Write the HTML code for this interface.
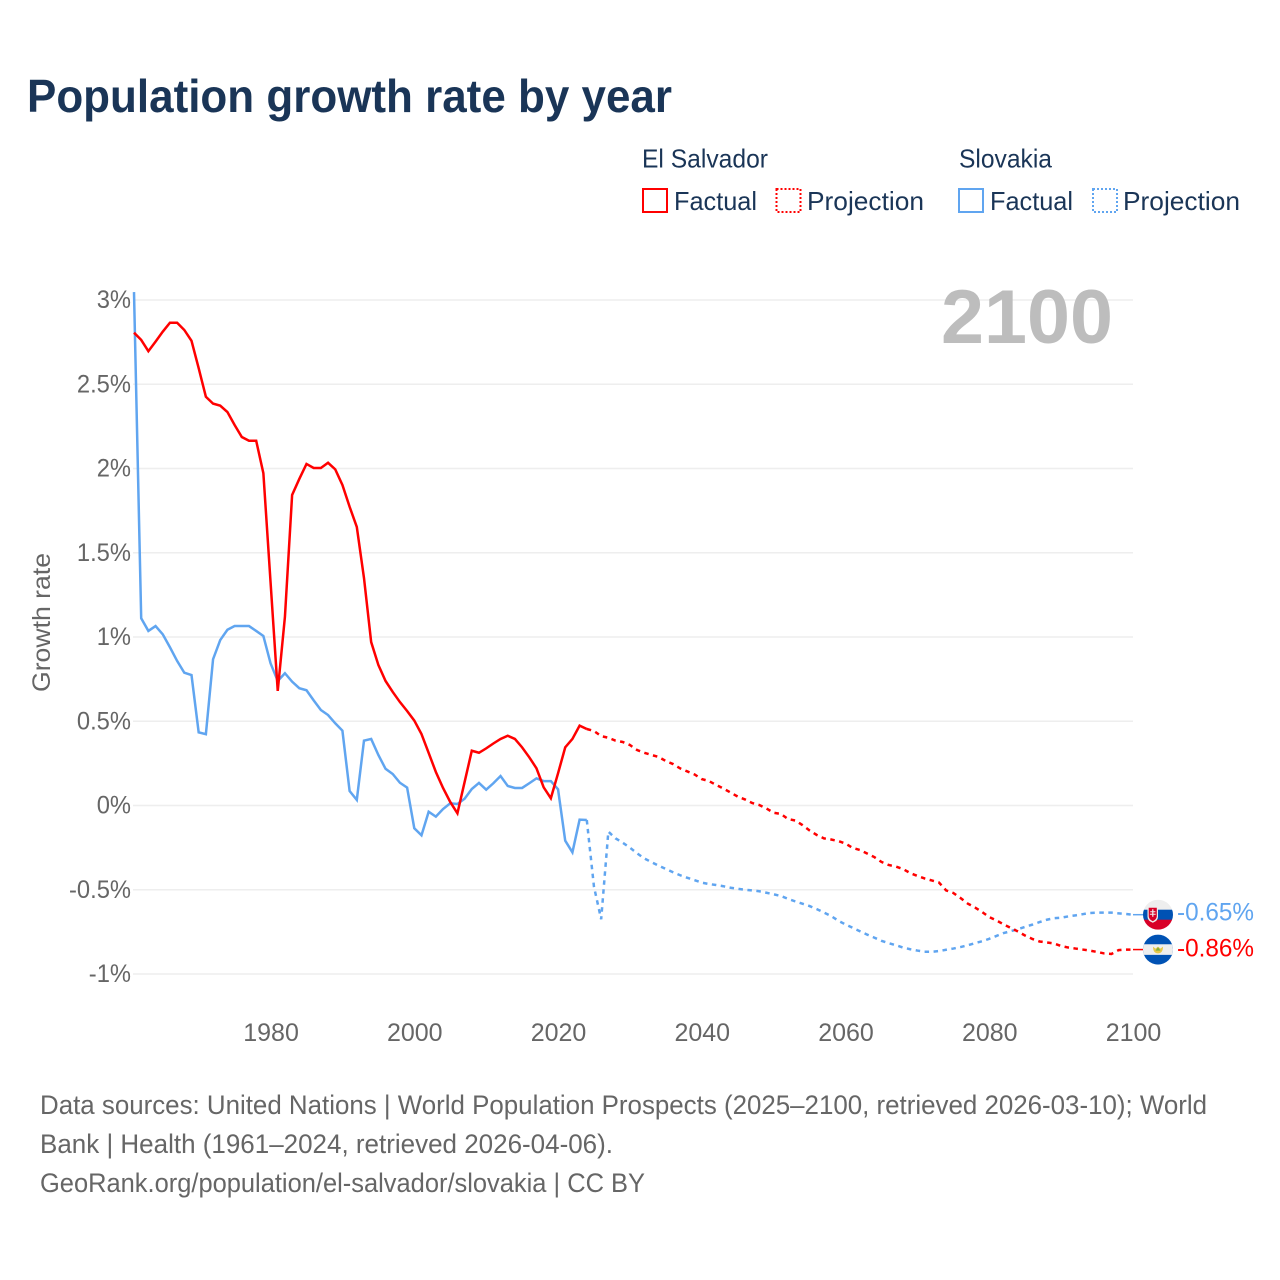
<!DOCTYPE html>
<html lang="en">
<head>
<meta charset="utf-8">
<title>Population growth rate by year</title>
<style>
html,body{margin:0;padding:0;background:#fff;width:1280px;height:1280px;overflow:hidden}
svg{display:block}
text{font-family:"Liberation Sans",sans-serif}
.legend{fill:#1a3557;font-size:26px}
.foot{fill:#666;font-size:26.5px}
.tick{fill:#666;font-size:25px}
</style>
</head>
<body>
<svg id="chart" xmlns="http://www.w3.org/2000/svg" width="1280" height="1280" viewBox="0 0 1280 1280">
  <rect width="1280" height="1280" fill="#fff"/>
  <text x="27" y="112" font-size="46" font-weight="700" fill="#1a3557" textLength="645" lengthAdjust="spacingAndGlyphs">Population growth rate by year</text>

  <g>
    <text class="legend" x="642" y="167.500" textLength="126" lengthAdjust="spacingAndGlyphs">El Salvador</text>
    <text class="legend" x="959" y="167.500" textLength="93" lengthAdjust="spacingAndGlyphs">Slovakia</text>
    <rect x="643" y="189" width="24" height="23" fill="none" stroke="#ff0000" stroke-width="2"/>
    <text class="legend" x="674" y="210" textLength="83" lengthAdjust="spacingAndGlyphs">Factual</text>
    <rect x="776.500" y="189" width="24" height="23" fill="none" stroke="#ff0000" stroke-width="2" stroke-dasharray="2 2"/>
    <text class="legend" x="807" y="210" textLength="117" lengthAdjust="spacingAndGlyphs">Projection</text>
    <rect x="959" y="189" width="24" height="23" fill="none" stroke="#60a5f0" stroke-width="2"/>
    <text class="legend" x="990" y="210" textLength="83" lengthAdjust="spacingAndGlyphs">Factual</text>
    <rect x="1093" y="189" width="24" height="23" fill="none" stroke="#60a5f0" stroke-width="2" stroke-dasharray="2 2"/>
    <text class="legend" x="1123" y="210" textLength="117" lengthAdjust="spacingAndGlyphs">Projection</text>
  </g>

  <g id="grid"></g>
  <g id="yticks"></g>
  <g id="xticks"></g>
  <text class="tick" transform="translate(50,622.5) rotate(-90)" text-anchor="middle" textLength="139" lengthAdjust="spacingAndGlyphs">Growth rate</text>
  <text x="941" y="343" font-size="76" font-weight="700" fill="#bdbdbd" textLength="172" lengthAdjust="spacingAndGlyphs">2100</text>

  <g id="series"></g>

  <defs>
    <clipPath id="flag-clip"><circle cx="0" cy="0" r="15"/></clipPath>
  </defs>
  <g id="flag-sk">
    <g clip-path="url(#flag-clip)">
      <rect x="-15" y="-15" width="30" height="10" fill="#eeeeee"/>
      <rect x="-15" y="-5" width="30" height="10.300" fill="#0052b4"/>
      <rect x="-15" y="5" width="30" height="10" fill="#d80027"/>
      <path d="M-10.500,-8 H0 V2 Q0,6 -5.200,8 Q-10.500,6 -10.500,2 Z" fill="#eeeeee"/>
      <path d="M-9.300,-7 H-1.200 V1.500 Q-1.200,4.500 -5.200,6.500 Q-9.300,4.500 -9.300,1.500 Z" fill="#d80027"/>
      <path d="M-5.800,-5.500 h1.200 v2 h2 v1 h-2 v1.500 h2.300 v1 h-2.300 v2 h-1.200 v-2 h-2.300 v-1 h2.300 v-1.500 h-2 v-1 h2 Z" fill="#eeeeee"/>
    </g>
  </g>
  <g id="flag-sv">
    <g clip-path="url(#flag-clip)">
      <rect x="-15" y="-15" width="30" height="30" fill="#0052b4"/>
      <rect x="-15" y="-5.300" width="30" height="10.600" fill="#eeeeee"/>
      <path d="M-5,-3 Q-5,3.500 0,3.800 Q5,3.500 5,-3 L2.500,-1 L0,-3 L-2.500,-1 Z" fill="#e6c84a"/>
      <path d="M-2.500,1 L0,-2.500 L2.500,1 Z" fill="#7fae3e"/>
    </g>
  </g>
  <g id="endlabels"></g>

  <g>
    <text class="foot" x="40" y="1114" textLength="1167" lengthAdjust="spacingAndGlyphs">Data sources: United Nations | World Population Prospects (2025–2100, retrieved 2026-03-10); World</text>
    <text class="foot" x="40" y="1153" textLength="573" lengthAdjust="spacingAndGlyphs">Bank | Health (1961–2024, retrieved 2026-04-06).</text>
    <text class="foot" x="40" y="1192" textLength="605" lengthAdjust="spacingAndGlyphs">GeoRank.org/population/el-salvador/slovakia | CC BY</text>
  </g>
</svg>

<script>
const factualStartYear = 1961;
const projectionStartYear = 2024;
const yearTicks = [1980, 2000, 2020, 2040, 2060, 2080, 2100];
const valueTicks = [3, 2.5, 2, 1.5, 1, 0.5, 0, -0.5, -1];
const valueTickLabels = ['3%', '2.5%', '2%', '1.5%', '1%', '0.5%', '0%', '-0.5%', '-1%'];
const endLabels = ['-0.86%', '-0.65%'];

const elSalvadorFactual = [2.806,2.763,2.696,2.753,2.812,2.865,2.865,2.822,2.758,2.595,2.426,2.385,2.373,2.335,2.258,2.187,2.165,2.165,1.972,1.326,0.680,1.120,1.843,1.938,2.027,2.003,2.003,2.034,1.995,1.902,1.773,1.653,1.350,0.970,0.834,0.739,0.674,0.614,0.561,0.504,0.424,0.312,0.199,0.104,0.021,-0.046,0.139,0.325,0.313,0.339,0.368,0.395,0.414,0.395,0.345,0.286,0.221,0.108,0.043,0.191,0.345,0.395,0.474,0.454];

const elSalvadorProjection = [0.454,0.442,0.412,0.402,0.385,0.377,0.359,0.329,0.313,0.300,0.288,0.264,0.246,0.220,0.202,0.184,0.157,0.145,0.122,0.101,0.077,0.053,0.036,0.015,0.003,-0.018,-0.043,-0.050,-0.080,-0.089,-0.116,-0.148,-0.175,-0.195,-0.202,-0.211,-0.226,-0.252,-0.264,-0.285,-0.306,-0.335,-0.353,-0.362,-0.377,-0.401,-0.418,-0.433,-0.445,-0.457,-0.504,-0.519,-0.549,-0.582,-0.605,-0.632,-0.662,-0.682,-0.706,-0.727,-0.748,-0.772,-0.792,-0.807,-0.813,-0.819,-0.834,-0.843,-0.849,-0.855,-0.861,-0.869,-0.878,-0.881,-0.858,-0.855,-0.855];

const slovakiaFactual = [3.047,1.111,1.036,1.065,1.016,0.939,0.858,0.788,0.774,0.434,0.423,0.868,0.982,1.043,1.065,1.065,1.065,1.036,1.006,0.844,0.739,0.785,0.735,0.696,0.684,0.624,0.567,0.537,0.488,0.444,0.086,0.033,0.385,0.395,0.300,0.218,0.187,0.135,0.106,-0.135,-0.177,-0.037,-0.066,-0.021,0.013,0.009,0.040,0.098,0.134,0.094,0.132,0.175,0.116,0.104,0.104,0.132,0.161,0.145,0.145,0.096,-0.209,-0.278,-0.084,-0.086];

const slovakiaProjection = [-0.086,-0.482,-0.675,-0.155,-0.195,-0.221,-0.250,-0.284,-0.314,-0.336,-0.357,-0.377,-0.396,-0.414,-0.429,-0.443,-0.458,-0.466,-0.472,-0.479,-0.488,-0.494,-0.500,-0.504,-0.509,-0.518,-0.527,-0.537,-0.554,-0.569,-0.583,-0.597,-0.615,-0.635,-0.656,-0.684,-0.706,-0.726,-0.746,-0.766,-0.784,-0.803,-0.817,-0.829,-0.843,-0.853,-0.861,-0.868,-0.868,-0.864,-0.856,-0.849,-0.840,-0.830,-0.817,-0.806,-0.791,-0.774,-0.757,-0.746,-0.734,-0.720,-0.707,-0.692,-0.678,-0.669,-0.666,-0.658,-0.652,-0.645,-0.638,-0.636,-0.636,-0.636,-0.640,-0.644,-0.648];

const SVG_NS = 'http://www.w3.org/2000/svg';
const RED = '#ff0000';
const BLUE = '#60a5f0';

function xScale(year) { return 134 + (year - 1961) * (999 / 139); }
function yScale(value) { return 805.5 - value * 168.5; }
function make(tag, parentId) {
  const el = document.createElementNS(SVG_NS, tag);
  document.getElementById(parentId).appendChild(el);
  return el;
}
function linePoints(values, startYear) {
  return values.map(function (v, i) {
    return xScale(startYear + i).toFixed(2) + ',' + yScale(v).toFixed(2);
  }).join(' ');
}

valueTicks.forEach(function (v, i) {
  const line = make('line', 'grid');
  
  
  line.setAttribute('x1', 133);
  line.setAttribute('x2', 1133);
  line.setAttribute('y1', yScale(v));
  line.setAttribute('y2', yScale(v));
  line.setAttribute('stroke', '#eeeeee');
  line.setAttribute('stroke-width', 1.4);

  const label = make('text', 'yticks');
  
  
  label.setAttribute('class', 'tick');
  label.setAttribute('x', 131);
  label.setAttribute('y', yScale(v) + 8);
  label.setAttribute('text-anchor', 'end');
  label.textContent = valueTickLabels[i];
  label.setAttribute('textLength', (label.getComputedTextLength() * 0.95).toFixed(1));
  label.setAttribute('lengthAdjust', 'spacingAndGlyphs');
});

yearTicks.forEach(function (year) {
  const label = make('text', 'xticks');
  
  
  label.setAttribute('class', 'tick');
  label.setAttribute('x', xScale(year) + 0.5);
  label.setAttribute('y', 1041);
  label.setAttribute('text-anchor', 'middle');
  label.textContent = String(year);
});

function drawSeries(values, startYear, color, dashed, name) {
  const line = make('polyline', 'series');
  
  
  line.setAttribute('points', linePoints(values, startYear));
  line.setAttribute('fill', 'none');
  line.setAttribute('stroke', color);
  line.setAttribute('stroke-width', 2.5);
  line.setAttribute('stroke-linejoin', 'miter');
  if (dashed) line.setAttribute('stroke-dasharray', '4.5 4.5');
}

drawSeries(slovakiaFactual, factualStartYear, BLUE, false, 'slovakia-factual-line');
drawSeries(slovakiaProjection, projectionStartYear, BLUE, true, 'slovakia-projection-line');
drawSeries(elSalvadorFactual, factualStartYear, RED, false, 'el-salvador-factual-line');
drawSeries(elSalvadorProjection, projectionStartYear, RED, true, 'el-salvador-projection-line');

const lastYear = projectionStartYear + elSalvadorProjection.length - 1;
const redEnd = elSalvadorProjection[elSalvadorProjection.length - 1];
const blueEnd = slovakiaProjection[slovakiaProjection.length - 1];

const redConnector = make('line', 'series');


redConnector.setAttribute('x1', xScale(lastYear));
redConnector.setAttribute('x2', 1144);
redConnector.setAttribute('y1', yScale(redEnd));
redConnector.setAttribute('y2', yScale(redEnd));
redConnector.setAttribute('stroke', RED);
redConnector.setAttribute('stroke-width', 1.5);

const blueConnector = make('line', 'series');


blueConnector.setAttribute('x1', xScale(lastYear));
blueConnector.setAttribute('x2', 1144);
blueConnector.setAttribute('y1', yScale(blueEnd));
blueConnector.setAttribute('y2', yScale(blueEnd));
blueConnector.setAttribute('stroke', BLUE);
blueConnector.setAttribute('stroke-width', 1.5);

document.getElementById('flag-sk').setAttribute('transform', 'translate(1158,' + yScale(blueEnd) + ')');
document.getElementById('flag-sv').setAttribute('transform', 'translate(1158,' + yScale(redEnd) + ')');

const redLabel = make('text', 'endlabels');


redLabel.setAttribute('x', 1177);
redLabel.setAttribute('y', yScale(redEnd) + 7);
redLabel.setAttribute('font-size', 25);
redLabel.setAttribute('fill', RED);
redLabel.setAttribute('textLength', 77);
redLabel.setAttribute('lengthAdjust', 'spacingAndGlyphs');
redLabel.textContent = endLabels[0];

const blueLabel = make('text', 'endlabels');


blueLabel.setAttribute('x', 1177);
blueLabel.setAttribute('y', yScale(blueEnd) + 6);
blueLabel.setAttribute('font-size', 25);
blueLabel.setAttribute('fill', BLUE);
blueLabel.setAttribute('textLength', 77);
blueLabel.setAttribute('lengthAdjust', 'spacingAndGlyphs');
blueLabel.textContent = endLabels[1];
</script>
</body>
</html>
